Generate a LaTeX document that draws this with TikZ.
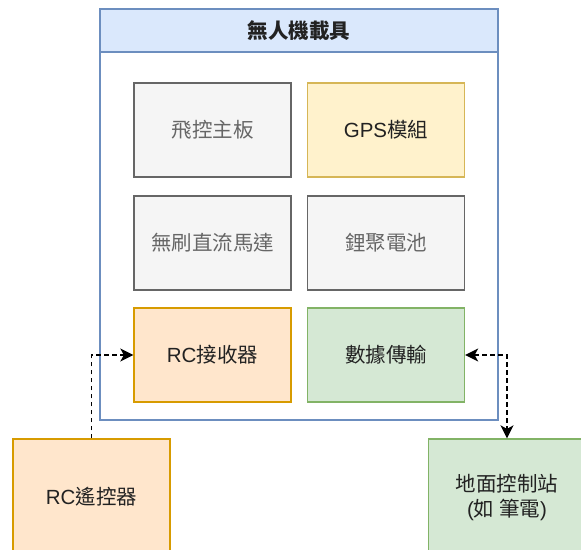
\documentclass[tikz,border=0pt]{standalone}
\usepackage{fontspec}
\setmainfont{Liberation Sans}
\newfontfamily\cjk{Noto Sans CJK TC}
\usetikzlibrary{arrows.meta}
\definecolor{grayfill}{HTML}{F5F5F5}
\definecolor{graydraw}{HTML}{666666}
\definecolor{graytext}{HTML}{666666}
\definecolor{yelfill}{HTML}{FFF2CC}
\definecolor{yeldraw}{HTML}{D6B656}
\definecolor{orafill}{HTML}{FFE6CC}
\definecolor{oradraw}{HTML}{D79B00}
\definecolor{grnfill}{HTML}{D5E8D4}
\definecolor{grndraw}{HTML}{82B366}
\definecolor{blufill}{HTML}{DAE8FC}
\definecolor{bludraw}{HTML}{6C8EBF}
\definecolor{darktext}{HTML}{222222}
\tikzset{
  box/.style={draw, line width=1.3pt, minimum width=157pt, minimum height=94pt, inner sep=0pt,
    font=\fontsize{20.5}{25}\selectfont, text=darktext, align=center},
  graybox/.style={box, fill=grayfill, draw=graydraw, text=graytext},
  yelbox/.style={box, fill=yelfill, draw=yeldraw},
  orabox/.style={box, fill=orafill, draw=oradraw},
  grnbox/.style={box, fill=grnfill, draw=grndraw},
  tip/.tip={Stealth[length=13pt,width=13pt,inset=3.5pt]},
  conn/.style={line width=1.7pt, dash pattern=on 4.5pt off 3.5pt, -tip},
}
\begin{document}
\begin{tikzpicture}[x=1pt,y=-1pt]
\useasboundingbox (0,0) rectangle (581,549);
\node[draw=bludraw, line width=1.3pt, fill=white, minimum width=398pt, minimum height=411pt, inner sep=0pt] (carrier) at (299,214.5) {};
\node[draw=bludraw, line width=1.3pt, fill=blufill, minimum width=398pt, minimum height=43pt, inner sep=0pt,
  font=\fontsize{20.5}{24}\selectfont\bfseries, text=darktext] (title) at (299,30.5) {\cjk 無人機載具};
\node[graybox] (fc) at (212.5,130) {\cjk 飛控主板};
\node[yelbox] (gps) at (386,130) {GPS{\cjk 模組}};
\node[graybox] (motor) at (212.5,243) {\cjk 無刷直流馬達};
\node[graybox] (bat) at (386,243) {\cjk 鋰聚電池};
\node[orabox] (rcrx) at (212.5,355) {RC{\cjk 接收器}};
\node[grnbox] (data) at (386,355) {\cjk 數據傳輸};
\node[orabox, minimum height=116pt] (remote) at (91.5,497) {RC{\cjk 遙控器}};
\node[grnbox, minimum height=116pt, text=darktext] (ground) at (507,497) {{\cjk 地面控制站}\\({\cjk 如 筆電})};
\draw[conn] (remote.north) |- (rcrx.west);
\draw[conn, tip-tip] (data.east) -| (ground.north);
\end{tikzpicture}
\end{document}
